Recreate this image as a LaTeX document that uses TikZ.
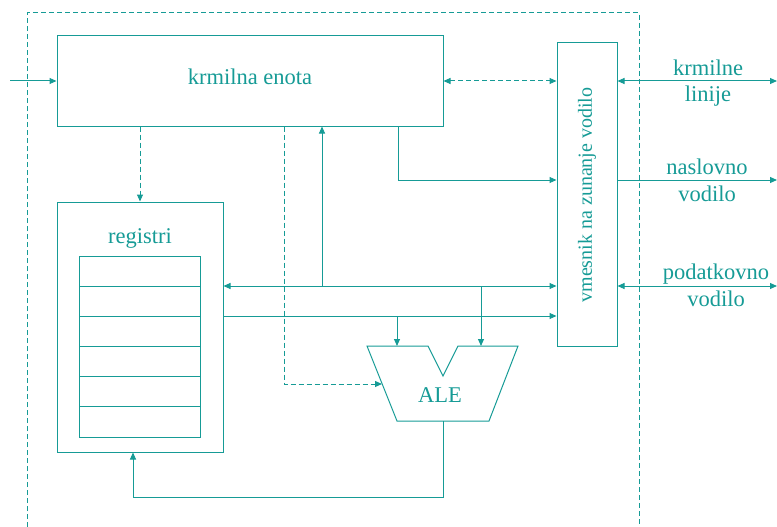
\documentclass[tikz,border=0pt]{standalone}
\usepackage{fontspec}
\setmainfont{Liberation Serif}
\usetikzlibrary{arrows.meta}
\definecolor{modra}{RGB}{22,155,150}

\begin{document}
\begin{tikzpicture}[x=1pt, y=-1pt, line width=1pt, color=modra,
		blok/.style={draw, rectangle, inner sep=0pt},
		pusica/.style={-{Triangle[length=7pt,width=6pt]}},
		dvojna/.style={{Triangle[length=7pt,width=6pt]}-{Triangle[length=7pt,width=6pt]}},
		crtkano/.style={dash pattern=on 5pt off 3pt},
		font=\fontsize{22.5}{27}\selectfont]
	\useasboundingbox (0,0) rectangle (777,527);
	\draw[crtkano] (27,527) -- (27,13) -- (639,13) -- (639,527);

	\node[blok, minimum width=386pt, minimum height=90pt] (ke) at (250,81) {};
	\node (ke-napis) at (250,77) {krmilna enota};
	\node[blok, minimum width=60pt, minimum height=303pt] (vm) at (587,194.5) {};
	\node[rotate=90, font=\fontsize{20}{24}\selectfont] (vm-napis) at (587,195) {vmesnik na zunanje vodilo};
	\node[blok, minimum width=166pt, minimum height=250pt] (reg) at (140,327) {};
	\node (reg-napis) at (140,238) {registri};
	\foreach \i in {0,...,5}{
		\draw (79,{256+30.17*\i}) rectangle (200,{286.17+30.17*\i});
	}

	% ALE z zarezo na vrhu
	\draw (367,346) -- (428,346) -- (443,376) -- (458,346) -- (518,346) -- (489,421) -- (397,421) -- cycle;
	\node (ale) at (440,395) {ALE};
	\coordinate (ale-a) at (397,346);
	\coordinate (ale-b) at (481,346);
	\coordinate (ale-k) at (382,384);
	\coordinate (ale-o) at (443,421);

	\coordinate (vhod) at (10,81);
	\coordinate (krm) at (284,384);
	\coordinate (nasl) at (398,180);
	\coordinate (vodilo) at (322,286);
	\coordinate (odcep) at (397,316);
	\coordinate (povratek) at (133,497);
	\coordinate (kl) at (777,81);
	\coordinate (nv) at (777,180);
	\coordinate (pv) at (777,286);

	\draw[pusica] (vhod) -- (ke.west);
	\draw[dvojna, crtkano] (ke.east) -- (vm.west |- ke.east);
	\draw[pusica, crtkano] (reg.north |- ke.south) -- (reg.north);
	\draw[pusica, crtkano] (ke.south -| krm) |- (ale-k);
	\draw[pusica] (ke.south -| nasl) -- (nasl) -- (vm.west |- nasl);
	\draw[dvojna] (reg.east |- vodilo) -- (vm.west |- vodilo);
	\draw[pusica] (vodilo) -- (ke.south -| vodilo);
	\draw[pusica] (ale-b |- vodilo) -- (ale-b);
	\draw[pusica] (reg.east |- odcep) -- (vm.west |- odcep);
	\draw[pusica] (odcep) -- (ale-a);
	\draw[pusica] (ale-o) |- (povratek) -- (reg.south -| povratek);

	\draw[dvojna] (vm.east |- kl) -- (kl);
	\draw[pusica] (vm.east |- nv) -- (nv);
	\draw[dvojna] (vm.east |- pv) -- (pv);
	\node (kl-1) at (708,67.5) {krmilne};
	\node (kl-2) at (708,96.5) {linije};
	\node (nv-1) at (707,166.5) {naslovno};
	\node (nv-2) at (707,193.5) {vodilo};
	\node (pv-1) at (716,274) {podatkovno};
	\node (pv-2) at (716,299) {vodilo};
\end{tikzpicture}
\end{document}
